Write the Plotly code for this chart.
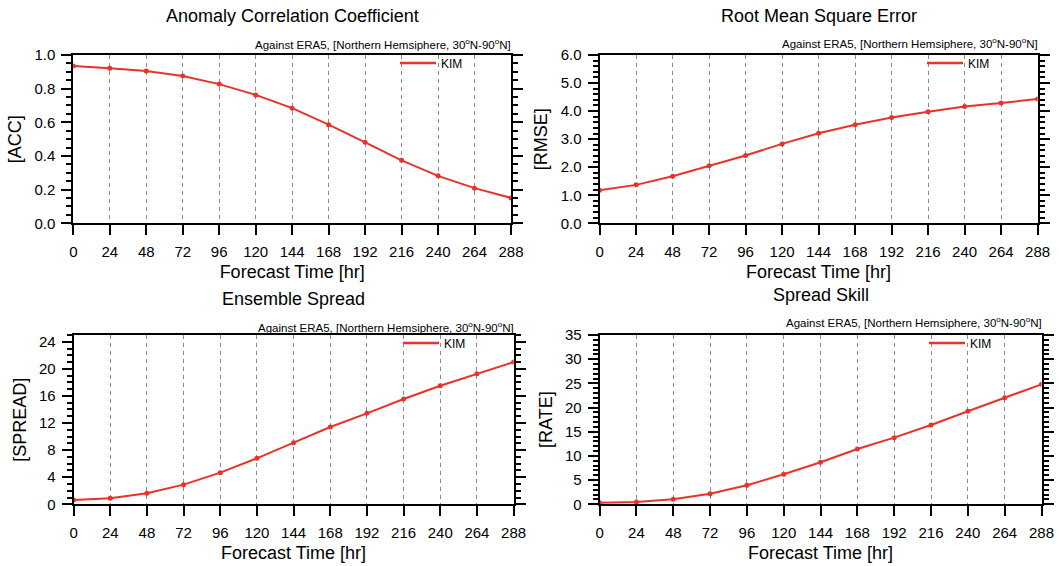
import plotly.graph_objects as go

# ---------------- data ----------------
hours = [0, 24, 48, 72, 96, 120, 144, 168, 192, 216, 240, 264, 288]
acc = [0.934, 0.922, 0.905, 0.875, 0.827, 0.763, 0.684, 0.586, 0.481, 0.374, 0.282, 0.209, 0.151]
rmse = [1.18, 1.37, 1.68, 2.05, 2.42, 2.83, 3.21, 3.51, 3.77, 3.98, 4.16, 4.29, 4.43]
spread = [0.64, 0.89, 1.62, 2.90, 4.67, 6.79, 9.10, 11.41, 13.43, 15.54, 17.51, 19.28, 21.0]
rate = [0.34, 0.48, 1.03, 2.20, 3.93, 6.20, 8.68, 11.44, 13.78, 16.40, 19.23, 22.05, 24.8]

panel_titles = ["Anomaly Correlation Coefficient", "Root Mean Square Error",
                "Ensemble Spread", "Spread Skill"]
y_titles = ["[ACC]", "[RMSE]", "[SPREAD]", "[RATE]"]
x_title = "Forecast Time [hr]"
subtitle = "Against ERA5, [Northern Hemsiphere, 30<sup>o</sup>N-90<sup>o</sup>N]"
series_name = "KIM"
x_ticks = hours

# ---------------- styling / layout ----------------
W, H = 1059, 566
RED = "#e8322a"
FONT = "Liberation Sans, Arial, Helvetica, sans-serif"

panels = [
    dict(v=acc, x0=73.3, x1=511.0, yt=55.0, yb=223.3, yr=[0, 1.0], dt=0.2, mn=0.05, fmt=".1f",
         ty=16, sy=44, lx=395, ly=63),
    dict(v=rmse, x0=599.6, x1=1037.6, yt=55.0, yb=223.3, yr=[0, 6.0], dt=1.0, mn=0.2, fmt=".1f",
         ty=16, sy=43, lx=922, ly=63),
    dict(v=spread, x0=73.6, x1=513.6, yt=335.0, yb=504.3, yr=[0, 25], dt=4, mn=1, fmt="d",
         ty=299, sy=327, lx=398, ly=343),
    dict(v=rate, x0=599.6, x1=1041.5, yt=335.0, yb=504.3, yr=[0, 35], dt=5, mn=1, fmt="d",
         ty=295, sy=322, lx=924, ly=343),
]

fig = go.Figure()
annotations = []
layout = dict(
    width=W, height=H,
    margin=dict(l=0, r=0, t=0, b=0),
    paper_bgcolor="white", plot_bgcolor="white",
    font=dict(family=FONT, color="black"),
    showlegend=True,
)

for i, p in enumerate(panels):
    n = "" if i == 0 else str(i + 1)
    xa, ya = "x" + n, "y" + n
    leg = "legend" + n

    fig.add_trace(go.Scatter(
        x=hours, y=p["v"], mode="lines+markers", name=series_name,
        line=dict(color=RED, width=2), marker=dict(color=RED, size=5),
        xaxis=xa, yaxis=ya, showlegend=False))
    # legend entry (line only)
    fig.add_trace(go.Scatter(
        x=[None], y=[None], mode="lines", name=series_name,
        line=dict(color=RED, width=2.5),
        xaxis=xa, yaxis=ya, legend=leg, showlegend=True))

    layout["xaxis" + n] = dict(
        domain=[p["x0"] / W, p["x1"] / W], anchor=ya,
        range=[0, 288], tickmode="array", tickvals=x_ticks,
        ticks="outside", ticklen=10, tickwidth=2, tickcolor="black",
        ticklabelstandoff=4,
        showline=True, linecolor="black", linewidth=2, mirror=True,
        showgrid=True, gridcolor="#8a8a8a", griddash="4px,4px", gridwidth=1,
        zeroline=False, tickfont=dict(size=15),
        title=dict(text=x_title, font=dict(size=18), standoff=6),
        automargin=False, fixedrange=True,
    )
    layout["yaxis" + n] = dict(
        domain=[1 - p["yb"] / H, 1 - p["yt"] / H], anchor=xa,
        range=p["yr"], dtick=p["dt"], tick0=0, tickformat=p["fmt"],
        ticks="outside", ticklen=10, tickwidth=2, tickcolor="black",
        ticklabelstandoff=3,
        minor=dict(dtick=p["mn"], ticks="outside", ticklen=5, tickwidth=1.5, tickcolor="black", showgrid=False),
        showline=True, linecolor="black", linewidth=2, mirror="ticks",
        showgrid=False, zeroline=False, tickfont=dict(size=15),
        title=dict(text=y_titles[i], font=dict(size=18), standoff=8),
        automargin=False, fixedrange=True,
    )
    layout[leg] = dict(
        x=p["lx"] / W, y=1 - p["ly"] / H, xanchor="left", yanchor="middle",
        bgcolor="rgba(0,0,0,0)", borderwidth=0, itemwidth=36,
        font=dict(size=12, color="black"), tracegroupgap=0,
    )
    cx = (p["x0"] + p["x1"]) / 2 / W
    annotations.append(dict(
        text=panel_titles[i], x=cx, y=1 - p["ty"] / H, xref="paper", yref="paper",
        xanchor="center", yanchor="middle", showarrow=False, font=dict(size=18, color="black")))
    annotations.append(dict(
        text=subtitle, x=(p["x1"] + 2) / W, y=1 - p["sy"] / H, xref="paper", yref="paper",
        xanchor="right", yanchor="middle", showarrow=False, font=dict(size=11.5, color="black")))

layout["annotations"] = annotations
fig.update_layout(**layout)
fig.write_html("out.html")
